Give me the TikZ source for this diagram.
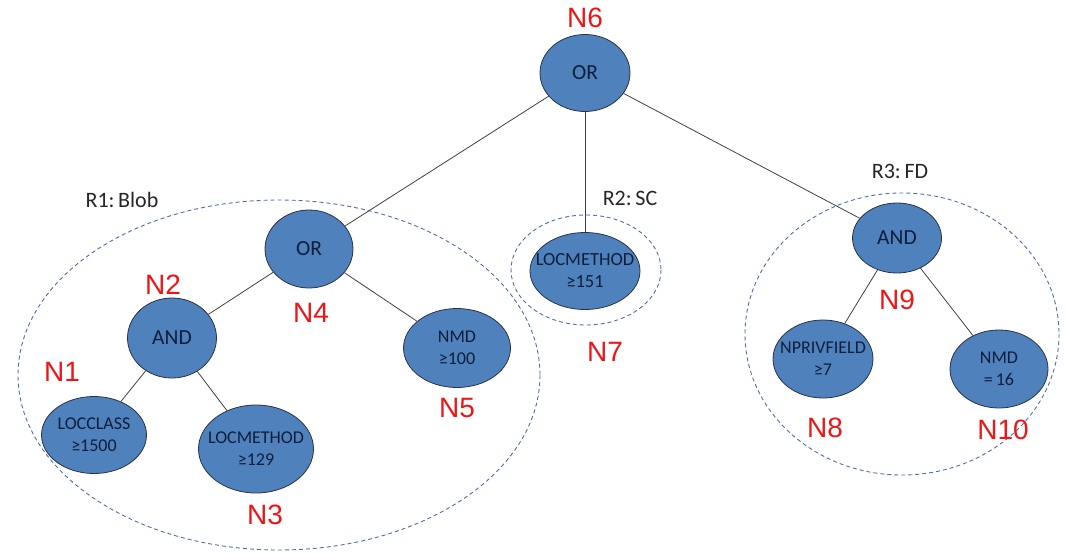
\documentclass[tikz,border=0pt]{standalone}
\usepackage{fontspec}
\setmainfont{Carlito}
\newfontfamily\labfont{Liberation Sans}
\usetikzlibrary{shapes.geometric}
\definecolor{nodefill}{RGB}{79,129,189}
\definecolor{nodeedge}{RGB}{40,50,70}
\definecolor{nodetext}{RGB}{15,30,60}
\definecolor{regline}{RGB}{80,110,170}
\definecolor{labred}{RGB}{240,20,20}
\tikzset{
  op/.style={ellipse, draw=nodeedge, line width=0.8pt, fill=nodefill, text=nodetext, inner sep=0pt, font=\fontsize{21.5}{24}\selectfont},
  leaf/.style={ellipse, draw=nodeedge, line width=0.8pt, fill=nodefill, inner sep=0pt},
  leaftext/.style={text=nodetext, inner sep=0pt, align=center, font=\fontsize{18}{22}\selectfont},
  nlab/.style={text=labred, font=\labfont\fontsize{28}{30}\selectfont, inner sep=0pt},
  rlab/.style={text=black!85, font=\fontsize{22}{24}\selectfont, inner sep=0pt},
  region/.style={draw=regline, line width=0.9pt, dash pattern=on 4pt off 3pt},
  edge/.style={draw=black!75, line width=0.8pt}
}
\begin{document}
\begin{tikzpicture}[x=1pt,y=-1pt]
\useasboundingbox (0,0) rectangle (1066,554);
% regions
\draw[region] (279,375) ellipse [x radius=261, y radius=175];
\draw[region] (586,270) ellipse [x radius=75, y radius=55];
\draw[region] (902,334) ellipse [x radius=157, y radius=141];
% operator nodes
\node[op, minimum width=90pt, minimum height=77pt] (N6) at (585,73) {OR};
\node[op, minimum width=88pt, minimum height=78pt] (N4) at (309,249) {OR};
\node[op, minimum width=89pt, minimum height=80pt] (N2) at (172,338) {AND};
\node[op, minimum width=89pt, minimum height=70pt] (N9) at (897,238) {AND};
% leaf nodes
\node[leaf, minimum width=105pt, minimum height=77pt] (N1) at (94,435) {};
\node[leaf, minimum width=115pt, minimum height=88pt] (N3) at (256,449) {};
\node[leaf, minimum width=107pt, minimum height=79pt] (N5) at (457,348) {};
\node[leaf, minimum width=110pt, minimum height=77pt] (N7) at (585,271) {};
\node[leaf, minimum width=100pt, minimum height=78pt] (N8) at (823,359) {};
\node[leaf, minimum width=98pt, minimum height=78pt] (N10) at (999,369) {};
\node[leaftext] (T1) at (N1) {LOCCLASS\\≥1500};
\node[leaftext] (T3) at (N3) {LOCMETHOD\\≥129};
\node[leaftext] (T5) at (N5) {NMD\\≥100};
\node[leaftext, font=\fontsize{18.5}{22}\selectfont] (T7) at (N7) {LOCMETHOD\\≥151};
\node[leaftext] (T8) at (N8) {NPRIVFIELD\\≥7};
\node[leaftext] (T10) at (N10) {NMD\\=\,16};
% edges
\draw[edge] (N6) -- (N4);
\draw[edge] (N6) -- (N7);
\draw[edge] (N6) -- (N9);
\draw[edge] (N4) -- (N2);
\draw[edge] (N4) -- (N5);
\draw[edge] (N2) -- (N1);
\draw[edge] (N2) -- (N3);
\draw[edge] (N9) -- (N8);
\draw[edge] (N9) -- (N10);
% node labels
\node[nlab] (L6) at (585,18) {N6};
\node[nlab] (L4) at (311,313) {N4};
\node[nlab] (L2) at (163,285) {N2};
\node[nlab] (L1) at (62,372) {N1};
\node[nlab] (L3) at (265,515) {N3};
\node[nlab] (L5) at (457,408) {N5};
\node[nlab] (L7) at (605,352) {N7};
\node[nlab] (L9) at (897,300) {N9};
\node[nlab] (L8) at (825,428) {N8};
\node[nlab] (L10) at (1003,430) {N10};
% region labels
\node[rlab] (R1) at (122,200) {R1:\,Blob};
\node[rlab] (R2) at (630,198) {R2:\,SC};
\node[rlab] (R3) at (900,171) {R3:\,FD};
\end{tikzpicture}
\end{document}
